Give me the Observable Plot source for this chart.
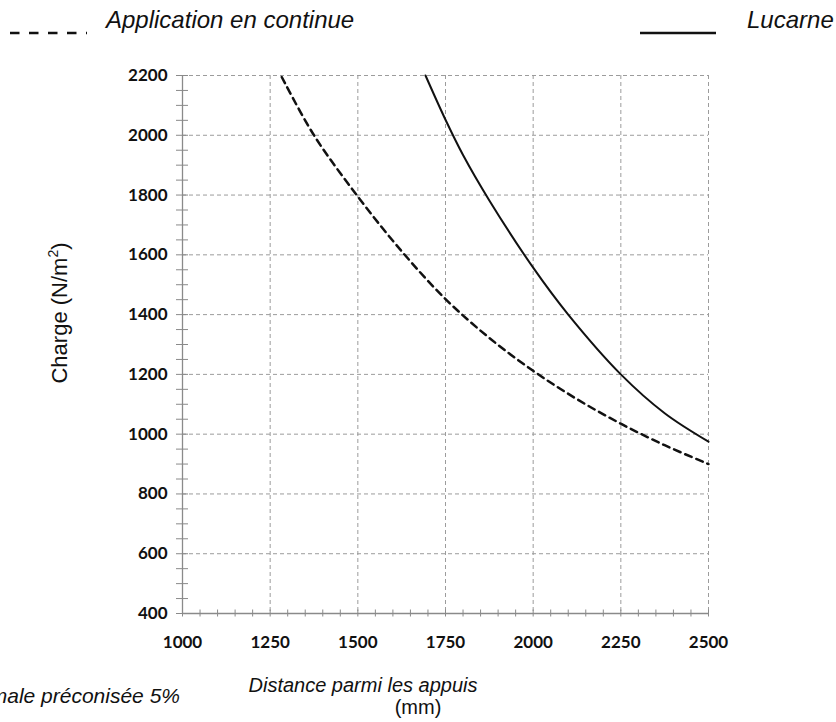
<!DOCTYPE html>
<html>
<head>
<meta charset="utf-8">
<script src="https://cdn.jsdelivr.net/npm/d3@7"></script>
<script src="https://cdn.jsdelivr.net/npm/@observablehq/plot@0.6"></script>
<style>
  html, body { margin: 0; padding: 0; background: #fff; }
  #wrap { position: relative; width: 836px; height: 722px; overflow: hidden; }
  #wrap > svg { position: absolute; left: 0; top: 0; }
  .cap { font-family: "Liberation Sans", Arial, sans-serif; fill: #111; }
</style>
</head>
<body>
<div id="wrap"></div>
<script>
// ---- data ----
const continueX = [1283, 1375, 1500, 1625, 1750, 1875, 2000, 2125, 2250, 2375, 2500];
const continueY = [2195, 2000, 1795, 1612, 1452, 1322, 1212, 1117, 1035, 963, 900];
const lucarneX = [1693, 1750, 1800, 1875, 2000, 2100, 2250, 2375, 2500];
const lucarneY = [2200, 2052, 1934, 1782, 1557, 1400, 1200, 1070, 975];
const xMajorTicks = [1000, 1250, 1500, 1750, 2000, 2250, 2500];
const yMajorTicks = [400, 600, 800, 1000, 1200, 1400, 1600, 1800, 2000, 2200];
const xMinorTicks = d3.range(1000, 2501, 50);
const yMinorTicks = d3.range(400, 2201, 50);
const seriesNames = ["Application en continue", "Lucarne"];

const continueData = continueX.map((x, i) => ({x, y: continueY[i]}));
const lucarneData = lucarneX.map((x, i) => ({x, y: lucarneY[i]}));

const axisGray = "#8a8a8a";
const gridGray = "#9c9c9c";

const chart = Plot.plot({
  width: 836,
  height: 722,
  marginLeft: 182,
  marginRight: 128,
  marginTop: 75,
  marginBottom: 109,
  x: {domain: [1000, 2500]},
  y: {domain: [400, 2200]},
  style: {background: "transparent", fontFamily: "Lato, 'Open Sans', sans-serif", color: "#111"},
  marks: [
    Plot.gridX(xMajorTicks.slice(1), {stroke: gridGray, strokeOpacity: 1, strokeWidth: 1, strokeDasharray: "4,3"}),
    Plot.gridY(yMajorTicks.slice(1), {stroke: gridGray, strokeOpacity: 1, strokeWidth: 1, strokeDasharray: "4,3"}),
    Plot.ruleX([1000], {stroke: axisGray, strokeWidth: 1.3}),
    Plot.ruleY([400], {stroke: axisGray, strokeWidth: 1.3}),
    Plot.axisY(yMinorTicks, {tickSize: 12, dx: 6, tickFormat: () => "", stroke: axisGray, strokeWidth: 1, label: null}),
    Plot.axisX(xMinorTicks, {tickSize: 7, dy: -3.5, tickFormat: () => "", stroke: axisGray, strokeWidth: 1, label: null}),
    Plot.axisY(yMajorTicks, {tickSize: 0, tickPadding: 15, tickFormat: d => String(d), fontWeight: "bold", fontSize: 17, label: null}),
    Plot.axisX(xMajorTicks, {tickSize: 0, tickPadding: 22, tickFormat: d => String(d), fontWeight: "bold", fontSize: 17, label: null}),
    Plot.line(continueData, {x: "x", y: "y", curve: "catmull-rom", stroke: "#111", strokeWidth: 2.5, strokeDasharray: "7,5"}),
    Plot.line(lucarneData, {x: "x", y: "y", curve: "catmull-rom", stroke: "#111", strokeWidth: 2})
  ]
});

const wrap = document.getElementById("wrap");
wrap.appendChild(chart);

// overlay for legend and captions
const ns = "http://www.w3.org/2000/svg";
const ov = document.createElementNS(ns, "svg");
ov.setAttribute("width", 836);
ov.setAttribute("height", 722);
ov.innerHTML = `
  <line x1="10" y1="33" x2="87" y2="33" stroke="#111" stroke-width="2.6" stroke-dasharray="9.5,9.5"/>
  <text class="cap" x="106" y="28" font-size="24" font-style="italic">${seriesNames[0]}</text>
  <line x1="640" y1="33" x2="716" y2="33" stroke="#111" stroke-width="2.6"/>
  <text class="cap" x="747" y="28" font-size="24" font-style="italic">${seriesNames[1]}</text>
  <text class="cap" transform="translate(67,313) rotate(-90)" text-anchor="middle" font-size="22">Charge (N/m<tspan dy="-9" font-size="14">2</tspan><tspan dy="9">)</tspan></text>
  <text class="cap" x="363" y="692" text-anchor="middle" font-size="20" font-style="italic">Distance parmi les appuis</text>
  <text class="cap" x="418" y="714" text-anchor="middle" font-size="20">(mm)</text>
  <text class="cap" x="180" y="703" text-anchor="end" font-size="21" font-style="italic">Pente minimale préconisée 5%</text>
`;
wrap.appendChild(ov);
</script>
</body>
</html>
